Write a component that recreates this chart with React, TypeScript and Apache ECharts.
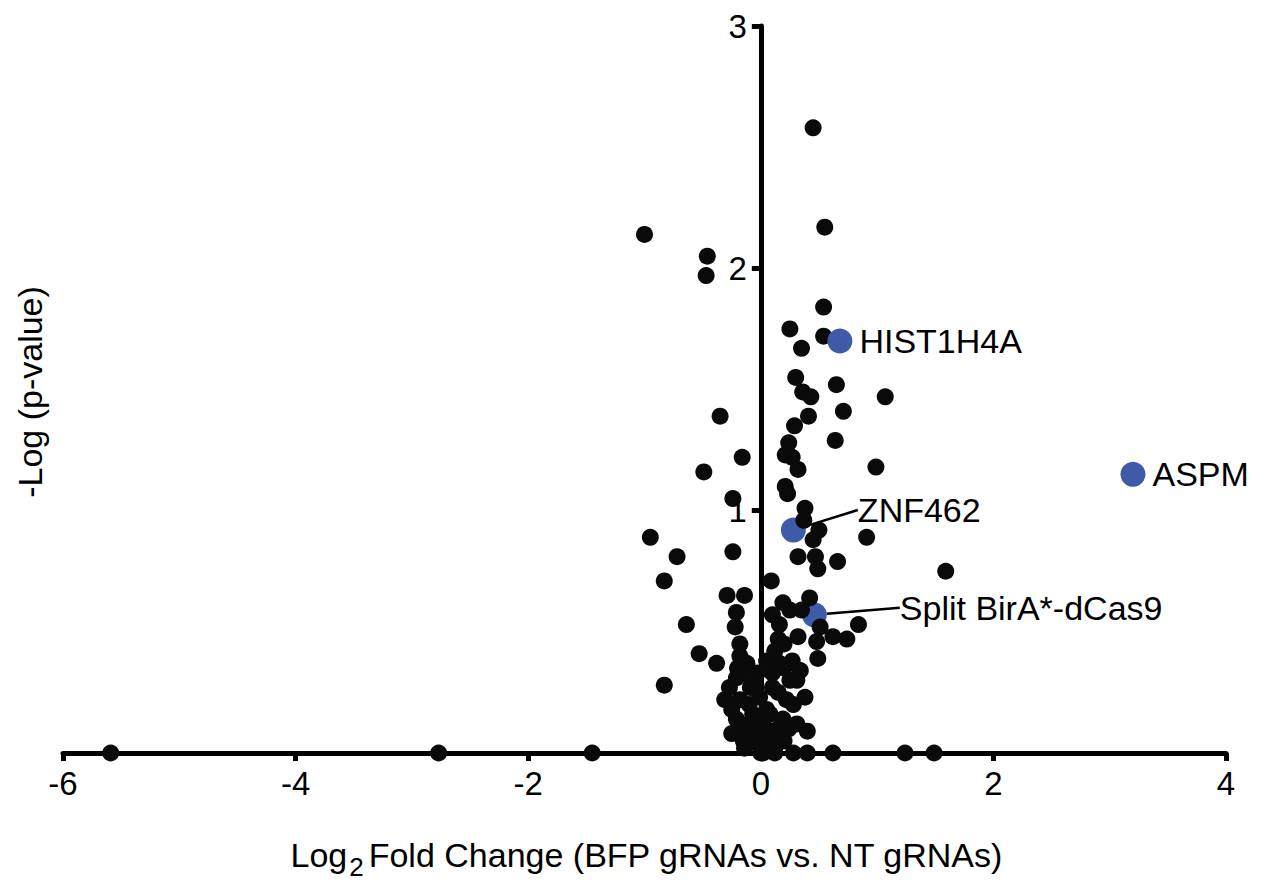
import React, { useEffect, useRef } from "react";
import * as echarts from "echarts";

// Log2 fold change (x) and -log(p-value) (y) for all proteins (black)
const otherProteins: [number, number][] = [
  [0.45, 2.58], [-1.0, 2.14], [-0.46, 2.05], [-0.47, 1.97], [0.55, 2.17], [0.54, 1.84],
  [0.25, 1.75], [0.54, 1.72], [0.35, 1.67], [0.3, 1.55], [0.36, 1.49], [0.43, 1.47],
  [0.65, 1.52], [1.07, 1.47], [0.41, 1.39], [0.71, 1.41], [-0.35, 1.39], [0.29, 1.35],
  [0.24, 1.28], [0.64, 1.29], [0.21, 1.23], [0.27, 1.22], [-0.16, 1.22], [0.99, 1.18],
  [0.32, 1.17], [-0.49, 1.16], [0.21, 1.1], [0.23, 1.07], [-0.24, 1.05], [0.38, 1.01],
  [0.37, 0.96], [0.5, 0.92], [0.45, 0.88], [0.91, 0.89], [-0.95, 0.89], [-0.72, 0.81],
  [-0.24, 0.83], [0.32, 0.81], [0.47, 0.81], [0.66, 0.79], [0.49, 0.76], [-0.83, 0.71],
  [0.09, 0.71], [1.59, 0.75], [-0.29, 0.65], [-0.14, 0.65], [0.19, 0.62], [0.42, 0.64],
  [-0.21, 0.58], [0.1, 0.57], [0.25, 0.59], [0.35, 0.59], [-0.64, 0.53], [-0.22, 0.52],
  [0.16, 0.53], [0.51, 0.52], [0.84, 0.53], [0.15, 0.47], [0.32, 0.48], [0.62, 0.48],
  [0.74, 0.47], [0.48, 0.46], [-0.53, 0.41], [-0.18, 0.45], [-0.18, 0.4], [0.49, 0.39],
  [-0.38, 0.37], [-0.12, 0.37], [0.16, 0.37], [0.27, 0.38], [0.34, 0.34], [-0.21, 0.31],
  [-0.03, 0.33], [0.1, 0.33], [0.31, 0.3], [-0.83, 0.28], [-0.27, 0.27], [-0.09, 0.27],
  [0.1, 0.27], [-0.31, 0.22], [-0.18, 0.22], [-0.01, 0.23], [0.22, 0.22], [0.38, 0.23],
  [-0.21, 0.14], [-0.07, 0.16], [0.08, 0.16], [0.19, 0.14], [0.31, 0.12], [0.4, 0.09],
  [-0.12, 0.09], [-0.01, 0.08], [0.1, 0.09], [-0.03, 0.04], [0.08, 0.04], [-0.18, 0.12],
  [-0.1, 0.2], [0.05, 0.18], [0.15, 0.25], [-0.05, 0.28], [0.02, 0.12], [-0.15, 0.05],
  [0.12, 0.02], [0.2, 0.05], [0.2, 0.45], [0.25, 0.3], [-0.2, 0.35], [0.05, 0.38],
  [-0.25, 0.18], [0.05, 0.06], [-0.08, 0.11], [0.15, 0.1], [-0.1, 0.32], [0.0, 0.15],
  [0.2, 0.35], [-0.25, 0.08], [0.12, 0.42], [0.28, 0.2], [-0.14, 0.02], [0.24, 0.1],
  [-5.59, 0], [-2.77, 0], [-1.45, 0], [0.0, 0], [0.02, 0], [0.12, 0], [0.28, 0],
  [0.4, 0], [0.62, 0], [1.24, 0], [1.49, 0],
];

// Highlighted proteins (blue)
const highlightNames = ["ZNF462", "Split BirA*-dCas9", "HIST1H4A", "ASPM"];
const highlightX = [0.28, 0.46, 0.68, 3.2];
const highlightY = [0.92, 0.57, 1.7, 1.15];

const xTicks = { min: -6, max: 4, interval: 2 };
const yTicks = { min: 0, max: 3, interval: 1 };

const FONT = '"Liberation Sans", Arial, Helvetica, sans-serif';
const BLUE = "#3f5aa8";
const BLACK = "#0a0a0a";

const W = 1266;
const H = 882;
const GRID = { left: 63, right: 40, top: 26, bottom: 129 };

export default function App() {
  const ref = useRef<HTMLDivElement>(null);

  useEffect(() => {
    if (!ref.current) return;
    const chart = echarts.init(ref.current, null, { renderer: "svg" });

    const hl = highlightNames.map((n, i) => ({ name: n, value: [highlightX[i], highlightY[i]] }));
    const under = hl.slice(0, 2);
    const over = hl.slice(2);

    // y axis sits at x = 0 of the x axis
    const gridWidth = W - GRID.left - GRID.right;
    const yOffset = -((0 - xTicks.min) / (xTicks.max - xTicks.min)) * gridWidth;

    // measure x-title pieces
    const ctx = document.createElement("canvas").getContext("2d")!;
    ctx.font = `34px ${FONT}`;
    const wLog = ctx.measureText("Log").width;
    const restText = "Fold Change (BFP gRNAs vs. NT gRNAs)";
    const wRest = ctx.measureText(restText).width;
    ctx.font = `26px ${FONT}`;
    const wSub = ctx.measureText("2").width;
    const total = wLog + 2 + wSub + 5 + wRest;
    const x0 = 647 - total / 2;

    const labelStyle = {
      show: true,
      position: "right",
      formatter: "{b}",
      color: "#000",
      fontSize: 34,
      fontFamily: FONT,
    };

    chart.setOption({
      animation: false,
      grid: GRID,
      xAxis: {
        type: "value",
        ...xTicks,
        splitLine: { show: false },
        axisLine: { lineStyle: { color: "#000", width: 5 } },
        axisTick: { length: 8, lineStyle: { color: "#000", width: 5 } },
        axisLabel: { color: "#000", fontSize: 33, fontFamily: FONT, margin: 14 },
      },
      yAxis: {
        type: "value",
        ...yTicks,
        offset: yOffset,
        splitLine: { show: false },
        axisLine: { onZero: false, lineStyle: { color: "#000", width: 5 } },
        axisTick: { length: 9, lineStyle: { color: "#000", width: 5 } },
        axisLabel: {
          color: "#000",
          fontSize: 33,
          fontFamily: FONT,
          margin: 14,
          formatter: (v: number) => (v === 0 ? "" : String(v)),
        },
      },
      graphic: [
        {
          type: "text",
          x: 30,
          y: 392,
          rotation: Math.PI / 2,
          style: {
            text: "-Log (p-value)",
            fontSize: 34,
            fontFamily: FONT,
            fill: "#000",
            align: "center",
            verticalAlign: "middle",
          },
        },
        {
          type: "text",
          x: x0,
          y: 855,
          style: { text: "Log", fontSize: 34, fontFamily: FONT, fill: "#000", align: "left", verticalAlign: "middle" },
        },
        {
          type: "text",
          x: x0 + wLog + 2,
          y: 867,
          style: { text: "2", fontSize: 26, fontFamily: FONT, fill: "#000", align: "left", verticalAlign: "middle" },
        },
        {
          type: "text",
          x: x0 + wLog + 2 + wSub + 5,
          y: 855,
          style: { text: restText, fontSize: 34, fontFamily: FONT, fill: "#000", align: "left", verticalAlign: "middle" },
        },
      ],
      series: [
        {
          type: "scatter",
          data: under,
          symbolSize: 25,
          itemStyle: { color: BLUE, opacity: 1 },
          label: { ...labelStyle, distance: 5 },
          labelLine: { show: true, lineStyle: { color: "#000", width: 2.5 } },
          labelLayout: (p: any) => (p.dataIndex === 0 ? { dx: 47, dy: -20 } : { dx: 68, dy: -7 }),
          z: 2,
        },
        {
          type: "scatter",
          data: otherProteins,
          symbolSize: 17,
          itemStyle: { color: BLACK, opacity: 1 },
          z: 3,
        },
        {
          type: "scatter",
          data: over,
          symbolSize: 25,
          itemStyle: { color: BLUE, opacity: 1 },
          label: { ...labelStyle, distance: 7 },
          z: 4,
        },
      ],
    });

    return () => chart.dispose();
  }, []);

  return (
    <div
      ref={ref}
      style={{ position: "absolute", left: 0, top: 0, width: W, height: H, background: "#fff" }}
    />
  );
}
